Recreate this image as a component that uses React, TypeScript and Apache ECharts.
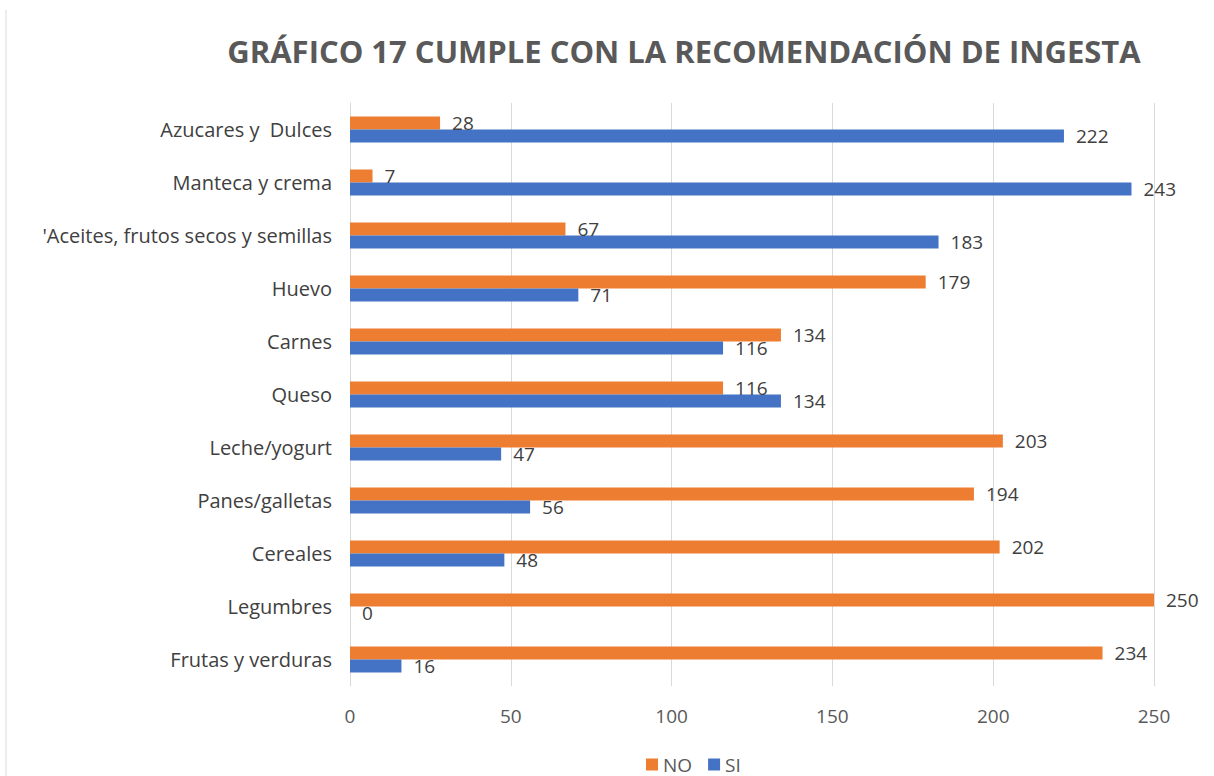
import React, { useEffect, useRef } from "react";
import * as echarts from "echarts";

const categories = [
  "Frutas y verduras",
  "Legumbres",
  "Cereales",
  "Panes/galletas",
  "Leche/yogurt",
  "Queso",
  "Carnes",
  "Huevo",
  "'Aceites, frutos secos y semillas",
  "Manteca y crema",
  "Azucares y  Dulces",
];
const noValues = [234, 250, 202, 194, 203, 116, 134, 179, 67, 7, 28];
const siValues = [16, 0, 48, 56, 47, 134, 116, 71, 183, 243, 222];
const xTicks = { min: 0, max: 250, interval: 50 };

const FONT = "'Open Sans', sans-serif";

export default function App() {
  const ref = useRef<HTMLDivElement>(null);
  useEffect(() => {
    const chart = echarts.init(ref.current!, null, { renderer: "svg" });
    const label = {
      show: true,
      position: "right" as const,
      distance: 12,
      color: "#404040",
      fontSize: 19,
      fontFamily: FONT,
    };
    chart.setOption({
      animation: false,
      backgroundColor: "#ffffff",
      title: {
        text: "GRÁFICO 17 CUMPLE CON LA RECOMENDACIÓN DE INGESTA",
        left: 679,
        textAlign: "center",
        top: 30,
        textStyle: {
          fontSize: 31,
          fontWeight: "bold",
          color: "#595959",
          fontFamily: FONT,
        },
      },
      legend: {
        data: ["NO", "SI"],
        bottom: -3,
        left: 641,
        itemWidth: 12,
        itemHeight: 12,
        itemGap: 16,
        icon: "rect",
        textStyle: { fontSize: 19, color: "#595959", fontFamily: FONT },
      },
      grid: { left: 350, right: 60, top: 103, bottom: 90, containLabel: false },
      xAxis: {
        type: "value",
        min: xTicks.min,
        max: xTicks.max,
        interval: xTicks.interval,
        axisLine: { show: false },
        axisTick: { show: false },
        splitLine: { lineStyle: { color: "#d9d9d9", width: 1 } },
        axisLabel: { fontSize: 19, color: "#595959", fontFamily: FONT, margin: 20 },
      },
      yAxis: {
        type: "category",
        data: categories,
        axisLine: { show: true, lineStyle: { color: "#d9d9d9" } },
        axisTick: { show: false },
        axisLabel: { fontSize: 20, color: "#404040", fontFamily: FONT, margin: 18 },
      },
      series: [
        {
          name: "NO",
          type: "bar",
          data: noValues,
          barWidth: 13,
          barGap: "0%",
          itemStyle: { color: "#ed7d31" },
          label,
        },
        {
          name: "SI",
          type: "bar",
          data: siValues,
          barWidth: 13,
          barGap: "0%",
          itemStyle: { color: "#4472c4" },
          label,
        },
      ],
      graphic: [
        {
          type: "line",
          shape: { x1: 6, y1: 10, x2: 6, y2: 776 },
          style: { stroke: "#d9d9d9", lineWidth: 1 },
        },
      ],
    });
    return () => chart.dispose();
  }, []);
  return (
    <div
      ref={ref}
      style={{ position: "absolute", left: 0, top: 0, width: 1214, height: 776 }}
    />
  );
}
